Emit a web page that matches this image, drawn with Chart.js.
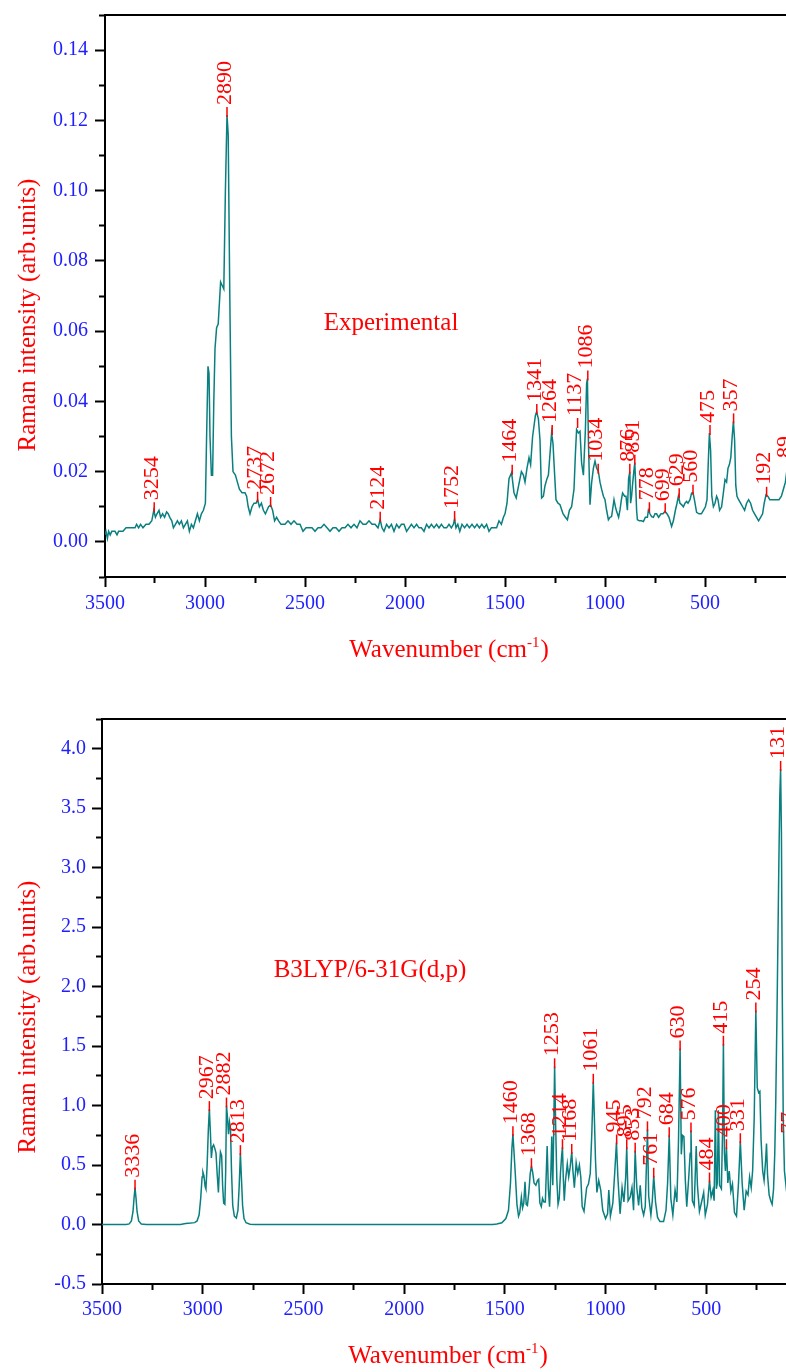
<!DOCTYPE html>
<html><head><meta charset="utf-8">
<script src="https://cdn.jsdelivr.net/npm/chart.js@4.4.1/dist/chart.umd.min.js"></script>
<style>
html,body{margin:0;padding:0;background:#fff;width:786px;height:1372px;overflow:hidden;}
#wrap{position:relative;width:786px;height:1372px;overflow:hidden;background:#fff;}
canvas{position:absolute;left:0;}
#c1{top:0;} #c2{top:680px;}
</style></head><body>
<div id="wrap"><canvas id="c1" width="830" height="680"></canvas><canvas id="c2" width="830" height="692"></canvas></div>
<script>
// ---------- Experimental Raman spectrum ----------
const expWavenumber = [3500,3495,3488,3482,3474,3466,3450,3440,3432,3410,3395,3370,3350,3342,3332,3322,3310,3295,3280,3266,3256,3248,3240,3230,3222,3212,3202,3192,3184,3176,3166,3158,3148,3138,3128,3118,3108,3098,3088,3078,3068,3058,3048,3038,3028,3018,3008,2998,2992,2985,2980,2975,2968,2962,2956,2950,2942,2934,2928,2922,2914,2906,2898,2890,2884,2876,2868,2860,2848,2838,2828,2815,2800,2792,2784,2775,2765,2755,2745,2737,2728,2718,2708,2698,2690,2682,2672,2662,2652,2642,2632,2620,2600,2585,2570,2555,2540,2525,2510,2495,2480,2465,2450,2435,2420,2405,2390,2375,2360,2345,2330,2315,2300,2285,2270,2255,2240,2225,2210,2195,2180,2165,2150,2135,2124,2115,2105,2092,2080,2068,2055,2042,2030,2018,2005,1992,1980,1968,1955,1942,1930,1918,1905,1892,1880,1868,1855,1842,1830,1818,1805,1792,1780,1768,1758,1752,1745,1736,1726,1715,1702,1690,1678,1665,1652,1640,1628,1616,1604,1592,1580,1568,1555,1542,1530,1518,1508,1500,1490,1480,1467,1455,1444,1432,1418,1408,1400,1390,1380,1372,1362,1348,1342,1333,1325,1317,1308,1300,1290,1283,1275,1267,1260,1255,1245,1235,1225,1210,1198,1188,1178,1167,1155,1148,1142,1133,1125,1117,1108,1098,1092,1088,1083,1075,1067,1058,1050,1042,1033,1025,1017,1008,1000,992,983,975,967,960,955,948,942,932,925,918,912,902,895,888,882,876,872,867,863,856,851,847,842,838,828,818,808,798,788,783,775,767,758,750,742,732,720,710,700,690,680,667,658,648,640,633,625,617,608,600,592,585,575,567,560,553,542,530,518,508,498,490,484,478,472,466,458,450,442,435,427,417,408,400,392,385,378,371,364,358,352,346,340,332,322,312,302,292,282,272,262,252,242,232,222,212,204,195,186,176,160,145,130,118,108,98,89,80,60,30,0];
const expIntensity = [0.002,0.003,0.001,0.003,0.002,0.003,0.003,0.002,0.003,0.003,0.004,0.004,0.004,0.005,0.004,0.005,0.004,0.005,0.005,0.006,0.009,0.007,0.008,0.009,0.007,0.008,0.007,0.0085,0.008,0.007,0.006,0.004,0.005,0.006,0.005,0.006,0.004,0.005,0.006,0.003,0.005,0.004,0.006,0.008,0.006,0.008,0.009,0.011,0.030,0.050,0.048,0.030,0.019,0.019,0.040,0.055,0.061,0.062,0.068,0.074,0.073,0.072,0.100,0.1215,0.116,0.070,0.030,0.020,0.019,0.017,0.015,0.014,0.014,0.013,0.010,0.008,0.010,0.011,0.011,0.012,0.010,0.011,0.009,0.008,0.009,0.010,0.0105,0.009,0.006,0.007,0.006,0.005,0.005,0.006,0.005,0.006,0.005,0.005,0.003,0.004,0.004,0.004,0.003,0.004,0.004,0.005,0.004,0.003,0.004,0.004,0.003,0.004,0.004,0.005,0.004,0.005,0.004,0.006,0.005,0.005,0.006,0.005,0.005,0.004,0.0063,0.004,0.003,0.005,0.004,0.005,0.003,0.005,0.004,0.005,0.005,0.003,0.004,0.005,0.004,0.005,0.004,0.004,0.003,0.005,0.004,0.005,0.004,0.005,0.004,0.005,0.004,0.004,0.005,0.004,0.005,0.0065,0.004,0.005,0.003,0.005,0.004,0.005,0.004,0.005,0.004,0.005,0.004,0.005,0.004,0.005,0.003,0.004,0.004,0.004,0.006,0.005,0.007,0.008,0.011,0.018,0.0197,0.014,0.0125,0.016,0.020,0.019,0.017,0.021,0.024,0.022,0.030,0.036,0.037,0.035,0.029,0.0125,0.013,0.016,0.018,0.019,0.025,0.031,0.028,0.0225,0.012,0.011,0.0106,0.008,0.007,0.0063,0.009,0.010,0.015,0.025,0.032,0.031,0.0315,0.0225,0.019,0.032,0.045,0.0465,0.029,0.0106,0.0168,0.021,0.023,0.021,0.020,0.017,0.015,0.013,0.012,0.009,0.0063,0.007,0.0072,0.010,0.012,0.010,0.0087,0.007,0.0091,0.012,0.0139,0.013,0.013,0.009,0.018,0.020,0.011,0.013,0.0158,0.020,0.0225,0.0168,0.009,0.0063,0.006,0.006,0.0058,0.007,0.007,0.009,0.008,0.0072,0.007,0.008,0.008,0.007,0.008,0.008,0.0087,0.008,0.007,0.0044,0.006,0.009,0.011,0.013,0.011,0.0106,0.010,0.011,0.0115,0.011,0.012,0.0139,0.014,0.012,0.0084,0.008,0.008,0.009,0.010,0.012,0.022,0.031,0.026,0.013,0.010,0.011,0.013,0.012,0.009,0.010,0.014,0.0177,0.017,0.021,0.022,0.024,0.030,0.0343,0.029,0.016,0.013,0.012,0.011,0.010,0.009,0.011,0.012,0.011,0.009,0.008,0.007,0.006,0.007,0.008,0.011,0.0134,0.013,0.012,0.012,0.012,0.012,0.013,0.015,0.017,0.021,0.017,0.012,0.009,0.008];
const expPeakWavenumber = [3254,2890,2737,2672,2124,1752,1464,1341,1264,1137,1086,1034,876,851,778,699,629,560,475,357,192,89];
const expPeakIntensity  = [0.009,0.1215,0.012,0.0105,0.0063,0.0065,0.0197,0.037,0.031,0.033,0.0465,0.020,0.020,0.0225,0.009,0.0087,0.013,0.014,0.031,0.0343,0.0134,0.021];

// ---------- B3LYP/6-31G(d,p) computed spectrum ----------
const calcWavenumber = [3500,3380,3365,3354,3346,3341,3336,3331,3326,3318,3305,3280,3110,3085,3060,3040,3028,3018,3010,3003,2999,2994,2988,2984,2978,2972,2967,2962,2957,2952,2946,2940,2934,2928,2922,2917,2912,2906,2901,2896,2890,2886,2882,2877,2872,2867,2862,2857,2851,2843,2833,2825,2819,2813,2808,2802,2795,2785,2765,2740,1560,1540,1515,1495,1482,1472,1465,1460,1455,1448,1440,1432,1426,1418,1412,1406,1400,1394,1388,1381,1374,1368,1362,1355,1346,1338,1332,1326,1319,1313,1306,1299,1290,1284,1278,1272,1267,1262,1258,1253,1248,1242,1236,1230,1224,1218,1214,1210,1205,1199,1190,1183,1176,1168,1162,1155,1146,1138,1130,1123,1116,1107,1094,1085,1076,1068,1061,1055,1050,1043,1034,1024,1014,1000,990,984,976,964,954,946,939,928,918,909,900,895,888,878,869,861,853,845,836,828,820,811,803,798,792,786,775,768,761,752,742,730,712,700,692,684,676,666,655,646,638,630,624,618,611,604,597,587,580,576,569,560,550,544,534,522,513,505,494,484,476,467,461,455,450,445,440,434,425,419,415,410,405,400,393,386,378,370,360,350,340,331,322,312,302,293,285,277,270,262,254,247,240,234,228,220,213,205,201,196,188,180,173,166,160,155,148,140,135,131,127,123,118,112,102,95,86,77,72,66,55,40,0];
const calcIntensity = [0,0,0.005,0.03,0.11,0.22,0.31,0.22,0.11,0.03,0.005,0,0,0.008,0.012,0.016,0.03,0.08,0.22,0.40,0.44,0.41,0.32,0.30,0.50,0.80,0.97,0.78,0.56,0.65,0.67,0.64,0.60,0.42,0.27,0.48,0.61,0.58,0.32,0.18,0.17,0.45,1.00,0.90,0.76,0.86,0.80,0.45,0.16,0.07,0.055,0.12,0.32,0.60,0.40,0.16,0.05,0.015,0.003,0,0,0.005,0.015,0.05,0.12,0.35,0.64,0.76,0.62,0.42,0.17,0.07,0.10,0.23,0.14,0.18,0.36,0.17,0.16,0.27,0.43,0.49,0.44,0.35,0.33,0.37,0.38,0.18,0.15,0.22,0.19,0.19,0.66,0.30,0.15,0.42,0.74,0.33,0.72,1.33,0.85,0.38,0.17,0.22,0.43,0.58,0.65,0.40,0.20,0.37,0.51,0.40,0.48,0.61,0.45,0.31,0.52,0.43,0.50,0.40,0.15,0.11,0.31,0.34,0.43,0.78,1.20,0.86,0.54,0.27,0.37,0.29,0.12,0.05,0.09,0.29,0.07,0.18,0.45,0.69,0.40,0.09,0.31,0.19,0.40,0.65,0.20,0.23,0.31,0.12,0.62,0.31,0.16,0.33,0.14,0.08,0.15,0.45,0.80,0.24,0.08,0.20,0.41,0.19,0.06,0.025,0.025,0.12,0.35,0.75,0.22,0.08,0.29,0.19,0.70,1.48,0.59,0.75,0.74,0.37,0.15,0.40,0.60,0.79,0.20,0.16,0.66,0.33,0.11,0.20,0.27,0.08,0.17,0.37,0.23,0.29,0.20,0.96,0.30,0.35,0.96,0.33,0.30,0.80,1.52,0.60,0.45,0.65,0.35,0.45,0.28,0.34,0.10,0.07,0.35,0.70,0.35,0.12,0.28,0.25,0.40,0.31,0.45,0.90,1.80,1.15,1.11,1.12,0.71,0.45,0.37,0.55,0.68,0.42,0.25,0.20,0.17,0.30,0.60,1.04,1.90,3.00,3.60,3.83,3.30,2.00,0.90,0.45,0.29,0.30,0.45,0.68,0.40,0.30,0.12,0.04,0];
const calcPeakWavenumber = [3336,2967,2882,2813,1460,1368,1253,1214,1168,1061,945,895,853,792,761,684,630,576,484,415,400,331,254,131,77];
const calcPeakIntensity  = [0.31,0.97,1.00,0.60,0.76,0.49,1.33,0.65,0.61,1.20,0.69,0.65,0.62,0.80,0.41,0.75,1.48,0.79,0.37,1.52,0.65,0.70,1.80,3.83,0.68];

// ---------- ticks ----------
const xTickValues = [3500,3000,2500,2000,1500,1000,500,0];
const xTickLabels = ['3500','3000','2500','2000','1500','1000','500','0'];
const expYTickValues = [0,0.02,0.04,0.06,0.08,0.10,0.12,0.14];
const expYTickLabels = ['0.00','0.02','0.04','0.06','0.08','0.10','0.12','0.14'];
const calcYTickValues = [-0.5,0,0.5,1,1.5,2,2.5,3,3.5,4];
const calcYTickLabels = ['-0.5','0.0','0.5','1.0','1.5','2.0','2.5','3.0','3.5','4.0'];

const BLUE = 'rgb(32,32,255)', RED = '#ff0000', TEAL = '#0a7f7f';
const FONT = "'Liberation Serif','Times New Roman',serif";
Chart.defaults.font.family = FONT;

function lookup(vals, labels, v){
  for (let i=0;i<vals.length;i++){ if (Math.abs(vals[i]-v) < 1e-7) return labels[i]; }
  return '';
}
function isIn(vals, v){ return vals.some(t => Math.abs(t - v) < 1e-7); }

const peakLabelPlugin = {
  id: 'peakLabels',
  afterDatasetsDraw(chart, args, o) {
    const {ctx} = chart; const x = chart.scales.x, y = chart.scales.y;
    ctx.save();
    ctx.font = '22px ' + FONT;
    ctx.fillStyle = RED; ctx.strokeStyle = RED; ctx.lineWidth = 1.5;
    o.wn.forEach((w, i) => {
      const px = x.getPixelForValue(w), py = y.getPixelForValue(o.val[i]);
      ctx.beginPath(); ctx.moveTo(px, py + 2); ctx.lineTo(px, py - 8); ctx.stroke();
      ctx.save(); ctx.translate(px - 2, py - 10); ctx.rotate(-Math.PI/2);
      ctx.textAlign = 'left'; ctx.textBaseline = 'middle';
      ctx.fillText(String(w), 0, 0);
      ctx.restore();
    });
    ctx.restore();
  }
};

const decorPlugin = {
  id: 'decor',
  afterDraw(chart, args, o) {
    const {ctx, chartArea: a} = chart;
    ctx.save();
    // top & right frame
    ctx.strokeStyle = '#000'; ctx.lineWidth = 2;
    ctx.beginPath(); ctx.moveTo(a.left - 1, Math.round(a.top)); ctx.lineTo(a.right + 1, Math.round(a.top));
    ctx.lineTo(a.right + 1, a.bottom); ctx.stroke();
    // inset label
    ctx.fillStyle = RED; ctx.font = '25px ' + FONT;
    ctx.textAlign = 'center'; ctx.textBaseline = 'middle';
    ctx.fillText(o.inset, o.insetX, o.insetY);
    // y title
    ctx.save(); ctx.translate(35, o.yTitleY); ctx.rotate(-Math.PI/2);
    ctx.textAlign = 'center'; ctx.textBaseline = 'alphabetic';
    ctx.fillText('Raman intensity (arb.units)', 0, 0);
    ctx.restore();
    // x title with superscript
    ctx.textAlign = 'left'; ctx.textBaseline = 'alphabetic';
    const main = 'Wavenumber (cm', sup = '-1', end = ')';
    ctx.font = '25px ' + FONT; const w1 = ctx.measureText(main).width, w3 = ctx.measureText(end).width;
    ctx.font = '15px ' + FONT; const w2 = ctx.measureText(sup).width;
    let sx = o.xTitleX - (w1 + w2 + w3 + 1) / 2;
    ctx.font = '25px ' + FONT; ctx.fillText(main, sx, o.xTitleBase); sx += w1;
    ctx.font = '15px ' + FONT; ctx.fillText(sup, sx, o.xTitleBase - 10); sx += w2 + 1;
    ctx.font = '25px ' + FONT; ctx.fillText(end, sx, o.xTitleBase);
    ctx.restore();
  }
};

function xScale(h, pad){
  return {
    type: 'linear', reverse: true, min: 0, max: 3500,
    afterFit(s){ s.height = h; s.paddingLeft = 0; s.paddingRight = 0; },
    border: {display: true, color: '#000', width: 2},
    grid: {display: true, drawOnChartArea: false, drawTicks: true, tickLength: 10, tickWidth: 2, tickColor: '#000',
      tickBorderDash: (c) => (c.tick && isIn(xTickValues, c.tick.value)) ? [] : [5, 50]},
    ticks: {stepSize: 250, autoSkip: false, maxRotation: 0, minRotation: 0, padding: pad, color: BLUE, font: {size: 20},
      callback: (v) => lookup(xTickValues, xTickLabels, v)}
  };
}
function yScale(min, max, step, w, pad, vals, labels){
  return {
    type: 'linear', min: min, max: max,
    afterFit(s){ s.width = w; s.paddingTop = 0; s.paddingBottom = 0; },
    border: {display: true, color: '#000', width: 2},
    grid: {display: true, drawOnChartArea: false, drawTicks: true, tickLength: 10, tickWidth: 2, tickColor: '#000',
      tickBorderDash: (c) => (c.tick && isIn(vals, c.tick.value)) ? [] : [0, 4, 6, 50]},
    ticks: {stepSize: step, autoSkip: false, padding: pad, color: BLUE, font: {size: 20},
      callback: (v) => lookup(vals, labels, v)}
  };
}

function makeChart(id, wn, val, cfg){
  return new Chart(document.getElementById(id), {
    type: 'line',
    data: {datasets: [{data: wn.map((w, i) => ({x: w, y: val[i]})), borderColor: TEAL, borderWidth: 1.5,
      pointRadius: 0, tension: 0, fill: false}]},
    options: {
      responsive: false, animation: false, devicePixelRatio: 1,
      layout: {padding: cfg.padding},
      scales: {x: xScale(cfg.xH, cfg.xPad), y: yScale(cfg.yMin, cfg.yMax, cfg.yStep, cfg.yW, cfg.yPad, cfg.yVals, cfg.yLabels)},
      plugins: {legend: {display: false}, tooltip: {enabled: false},
        peakLabels: {wn: cfg.peakWn, val: cfg.peakVal},
        decor: cfg.decor}
    },
    plugins: [peakLabelPlugin, decorPlugin]
  });
}

makeChart('c1', expWavenumber, expIntensity, {
  padding: {left: 0, top: 15, right: 25, bottom: 0}, xH: 103, xPad: 5,
  yMin: -0.01, yMax: 0.15, yStep: 0.01, yW: 105, yPad: 7, yVals: expYTickValues, yLabels: expYTickLabels,
  peakWn: expPeakWavenumber, peakVal: expPeakIntensity,
  decor: {inset: 'Experimental', insetX: 391, insetY: 323, yTitleY: 315, xTitleX: 449, xTitleBase: 657}
});
makeChart('c2', calcWavenumber, calcIntensity, {
  padding: {left: 0, top: 39, right: 23, bottom: 0}, xH: 88, xPad: 4,
  yMin: -0.5, yMax: 4.25, yStep: 0.25, yW: 102, yPad: 6, yVals: calcYTickValues, yLabels: calcYTickLabels,
  peakWn: calcPeakWavenumber, peakVal: calcPeakIntensity,
  decor: {inset: 'B3LYP/6-31G(d,p)', insetX: 370, insetY: 290, yTitleY: 337, xTitleX: 448, xTitleBase: 683}
});
</script>
</body></html>
